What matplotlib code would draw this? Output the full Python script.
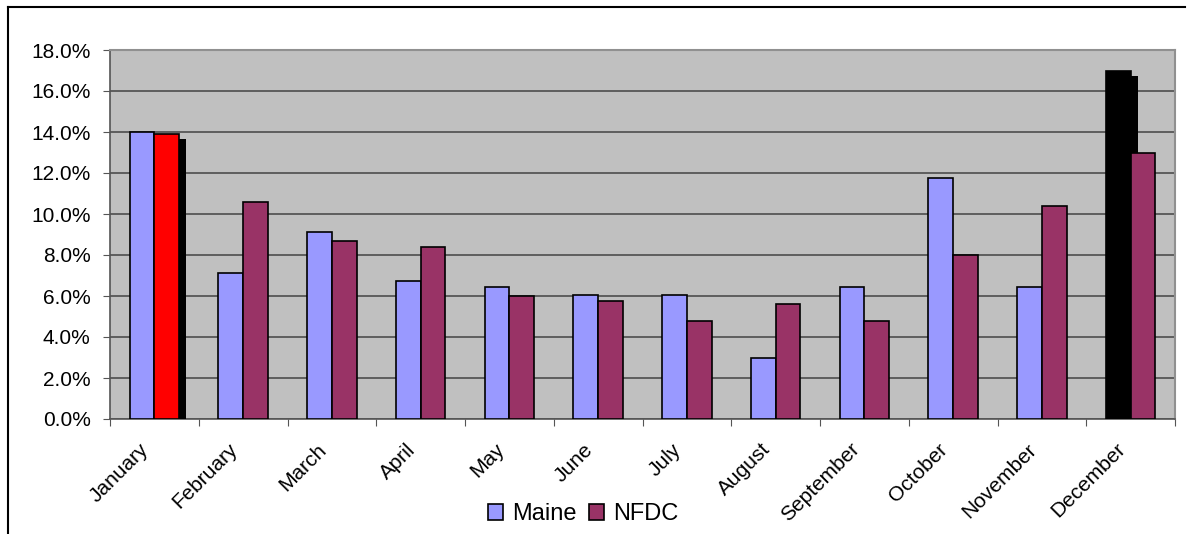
import numpy as np
import matplotlib.pyplot as plt
import matplotlib.patheffects as pe
import matplotlib.transforms as mtransforms
from matplotlib.lines import Line2D

months = ["January", "February", "March", "April", "May", "June", "July",
          "August", "September", "October", "November", "December"]
maine = [14.0, 7.1, 9.1, 6.75, 6.45, 6.05, 6.05, 3.0, 6.45, 11.75, 6.45, 17.0]
nfdc = [13.9, 10.6, 8.7, 8.4, 6.0, 5.75, 4.8, 5.6, 4.8, 8.0, 10.4, 13.0]
yticks = [0, 2, 4, 6, 8, 10, 12, 14, 16, 18]

plt.rcParams['font.family'] = ['Liberation Sans', 'DejaVu Sans']

fig = plt.figure(figsize=(11.91, 5.34), dpi=100)
ax = fig.add_axes([110 / 1191, 115 / 534, 1065 / 1191, 369 / 534])
ax.set_facecolor("#C0C0C0")

x = np.arange(len(months)) + 0.5
w = 0.28
shadow = [pe.SimplePatchShadow(offset=(5, -3.6), shadow_rgbFace="black", alpha=1.0),
          pe.Normal()]

b1 = ax.bar(x - w / 2, maine, w, color="#9999FF", edgecolor="black", lw=1.2, zorder=3)
b2 = ax.bar(x + w / 2, nfdc, w, color="#993366", edgecolor="black", lw=1.2, zorder=3)

# highlighted bars: January NFDC and December Maine
b2[0].set_facecolor("#FF0000")
b2[0].set_path_effects(shadow)
b1[11].set_facecolor("black")
b1[11].set_path_effects(shadow)
b1[11].set_zorder(2.9)

ax.set_xlim(0, 12)
ax.set_ylim(0, 18)
ax.set_yticks(yticks)
ax.set_yticklabels([f"{v:.1f}%" for v in yticks], fontsize=15)
ax.yaxis.grid(True, color="#444444", lw=1.1, zorder=1)
ax.set_axisbelow(True)

ax.set_xticks(np.arange(13))
ax.set_xticklabels([])
ax.set_xticks(x, minor=True)
ax.set_xticklabels(months, minor=True, rotation=45, ha="right",
                   rotation_mode="anchor", fontsize=15)
ax.tick_params(axis="x", which="minor", length=0, pad=15)
ax.tick_params(axis="x", which="major", length=5, color="#555555")
ax.tick_params(axis="y", length=5, color="#555555", pad=9)

# nudge month labels left so they end just short of the category centre
shift = mtransforms.ScaledTranslation(-0.15, 0, fig.dpi_scale_trans)
for lbl in ax.get_xticklabels(minor=True):
    lbl.set_transform(lbl.get_transform() + shift)

for s in ["left", "bottom"]:
    ax.spines[s].set_color("#555555")
    ax.spines[s].set_linewidth(1.2)
for s in ["top", "right"]:
    ax.spines[s].set_color("#909090")
    ax.spines[s].set_linewidth(1.5)

ax.legend([b1[1], b2[1]], ["Maine", "NFDC"], loc="center",
          bbox_to_anchor=(583 / 1191, 20 / 534), bbox_transform=fig.transFigure,
          ncol=2, frameon=False, fontsize=17, handlelength=0.65, handleheight=0.65,
          handletextpad=0.38, columnspacing=0.5, borderpad=0.2)

# outer chart frame: top and left edges
fig.add_artist(Line2D([8 / 1191, 8 / 1191], [0, 527 / 534], color="black", lw=1.5))
fig.add_artist(Line2D([8 / 1191, 1185 / 1191], [527 / 534, 527 / 534], color="black", lw=1.5))

fig.savefig("out.png", dpi=100)
